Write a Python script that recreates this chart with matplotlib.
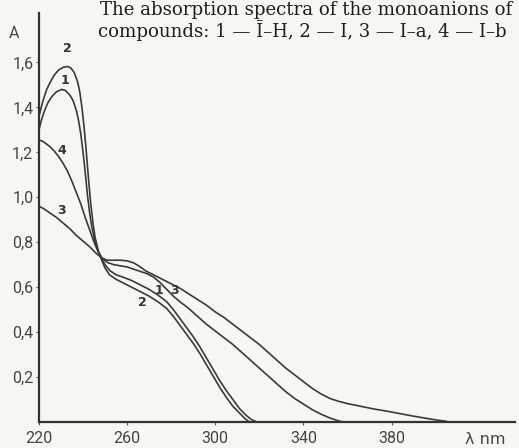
import matplotlib
matplotlib.use('Agg')
import matplotlib.pyplot as plt

# wavelength (nm) / absorbance
wl_1 = [220, 221, 222.5, 224, 226, 228, 230.4, 232, 234, 235.5, 237, 238, 239, 240, 241,
        242, 243, 244, 245.5, 247, 248.5, 250, 252, 255, 258, 262, 266, 270, 274, 278,
        281, 284, 287, 290, 293, 296, 299, 302, 305, 308, 311, 314, 316.5, 319]
a_1 = [1.30, 1.34, 1.385, 1.42, 1.45, 1.47, 1.48, 1.475, 1.455, 1.43, 1.385, 1.34, 1.28,
       1.20, 1.11, 1.01, 0.93, 0.865, 0.80, 0.755, 0.725, 0.70, 0.675, 0.655, 0.645, 0.63,
       0.61, 0.59, 0.565, 0.535, 0.50, 0.46, 0.42, 0.38, 0.335, 0.285, 0.235, 0.185, 0.14,
       0.10, 0.06, 0.03, 0.01, 0.0]

wl_2 = [220, 221, 222, 223.5, 225, 227, 229, 231, 233, 234.5, 236, 237.5, 238.5, 239.5,
        240.5, 241.5, 242.5, 243.5, 244.5, 245.5, 247, 248.5, 250, 252, 255, 258, 262, 266,
        270, 274, 278, 281, 284, 287, 290, 293, 296, 299, 302, 305, 308, 311, 313.5, 315.5]
a_2 = [1.36, 1.40, 1.435, 1.48, 1.51, 1.545, 1.567, 1.578, 1.582, 1.575, 1.555, 1.515, 1.47,
       1.40, 1.31, 1.20, 1.08, 0.97, 0.885, 0.82, 0.76, 0.72, 0.685, 0.655, 0.635, 0.62,
       0.60, 0.58, 0.56, 0.535, 0.505, 0.47, 0.43, 0.39, 0.35, 0.305, 0.255, 0.205, 0.155,
       0.11, 0.07, 0.04, 0.015, 0.0]

wl_3 = [220, 222, 225, 228, 231, 234, 237, 240, 243, 246, 248.5, 251, 254, 257, 260, 263,
        266, 268.5, 271, 274, 277, 280, 284, 288, 292, 296, 300, 304, 308, 312, 316, 320,
        324, 328, 332, 336, 340, 344, 348, 352, 356, 360, 366, 372, 378, 384, 390, 396,
        401, 405]
a_3 = [0.96, 0.95, 0.93, 0.91, 0.885, 0.86, 0.83, 0.805, 0.78, 0.75, 0.73, 0.72, 0.72,
       0.72, 0.717, 0.708, 0.69, 0.672, 0.66, 0.645, 0.63, 0.615, 0.595, 0.57, 0.545, 0.52,
       0.49, 0.465, 0.435, 0.405, 0.375, 0.345, 0.31, 0.275, 0.24, 0.21, 0.18, 0.15, 0.125,
       0.105, 0.092, 0.082, 0.07, 0.058, 0.048, 0.037, 0.026, 0.016, 0.008, 0.003]

wl_4 = [220, 221.5, 223, 225, 227, 229, 231, 233, 235, 237, 239, 241, 243, 245, 247, 249,
        251, 254, 257, 260, 263, 266, 269, 272, 275, 278, 281, 284, 288, 292, 296, 300,
        304, 308, 312, 316, 320, 324, 328, 332, 336, 340, 344, 348, 352, 356, 358]
a_4 = [1.255, 1.25, 1.24, 1.225, 1.205, 1.18, 1.15, 1.115, 1.07, 1.02, 0.97, 0.91, 0.855,
       0.80, 0.755, 0.725, 0.71, 0.70, 0.695, 0.69, 0.68, 0.67, 0.66, 0.645, 0.62, 0.59,
       0.56, 0.535, 0.505, 0.47, 0.435, 0.405, 0.375, 0.345, 0.31, 0.275, 0.24, 0.205,
       0.17, 0.135, 0.105, 0.08, 0.055, 0.035, 0.018, 0.005, 0.0]

x_ticks = [220, 260, 300, 340, 380]
y_ticks = [0.2, 0.4, 0.6, 0.8, 1.0, 1.2, 1.4, 1.6]
y_tick_labels = ['0,2', '0,4', '0,6', '0,8', '1,0', '1,2', '1,4', '1,6']

# curve number labels: (text, wavelength, absorbance)
curve_labels = [('2', 233, 1.66), ('1', 231.7, 1.52), ('4', 230.4, 1.21), ('3', 230.4, 0.94),
                ('2', 267, 0.53), ('1', 274.5, 0.585), ('3', 281.5, 0.585)]

title_1 = 'The absorption spectra of the monoanions of'
title_2 = 'compounds: 1 \u2014 \u012a\u2013H, 2 \u2014 I, 3 \u2014 I\u2013a, 4 \u2014 I\u2013b'

ink = '#3a3a3a'
bg = '#f6f6f3'

fig = plt.figure(figsize=(5.19, 4.48), dpi=100, facecolor=bg)
ax = fig.add_axes([0.0751, 0.058, 0.917, 0.913], facecolor=bg)

for wl, a in ((wl_1, a_1), (wl_2, a_2), (wl_3, a_3), (wl_4, a_4)):
    ax.plot(wl, a, color=ink, lw=1.2, solid_capstyle='round')

ax.set_xlim(220, 436)
ax.set_ylim(0, 1.82)
for side in ('top', 'right'):
    ax.spines[side].set_visible(False)
for side in ('left', 'bottom'):
    ax.spines[side].set_color('#333333')
    ax.spines[side].set_linewidth(1.6)

ax.set_xticks(x_ticks)
ax.set_yticks(y_ticks)
ax.set_yticklabels(y_tick_labels)
ax.tick_params(direction='out', length=2.5, width=0.8, color='#555555',
               labelsize=11.5, labelcolor='#444444', pad=4)
for lab in ax.get_xticklabels() + ax.get_yticklabels():
    lab.set_family('Roboto')
ax.tick_params(axis='y', pad=1.5)

for txt, wl, a in curve_labels:
    ax.text(wl, a, txt, fontsize=9, fontweight='bold', color='#333333',
            family='DejaVu Sans', ha='center', va='center')

fig.text(14 / 519, 1 - 33 / 448, 'A', fontsize=11.5, color='#444444', family='Roboto',
         ha='center', va='center')
fig.text(485 / 519, 1 - 439 / 448, '\u03bb nm', fontsize=11.5, color='#444444',
         family='DejaVu Sans', ha='center', va='center')

fig.text(100 / 519, 1 - 15 / 448, title_1, fontsize=13.1, color='#1e1e1e',
         family='DejaVu Serif', ha='left', va='baseline')
fig.text(98 / 519, 1 - 37 / 448, title_2, fontsize=13.1, color='#1e1e1e',
         family='DejaVu Serif', ha='left', va='baseline')

fig.savefig('out.png', dpi=100, facecolor=bg)
